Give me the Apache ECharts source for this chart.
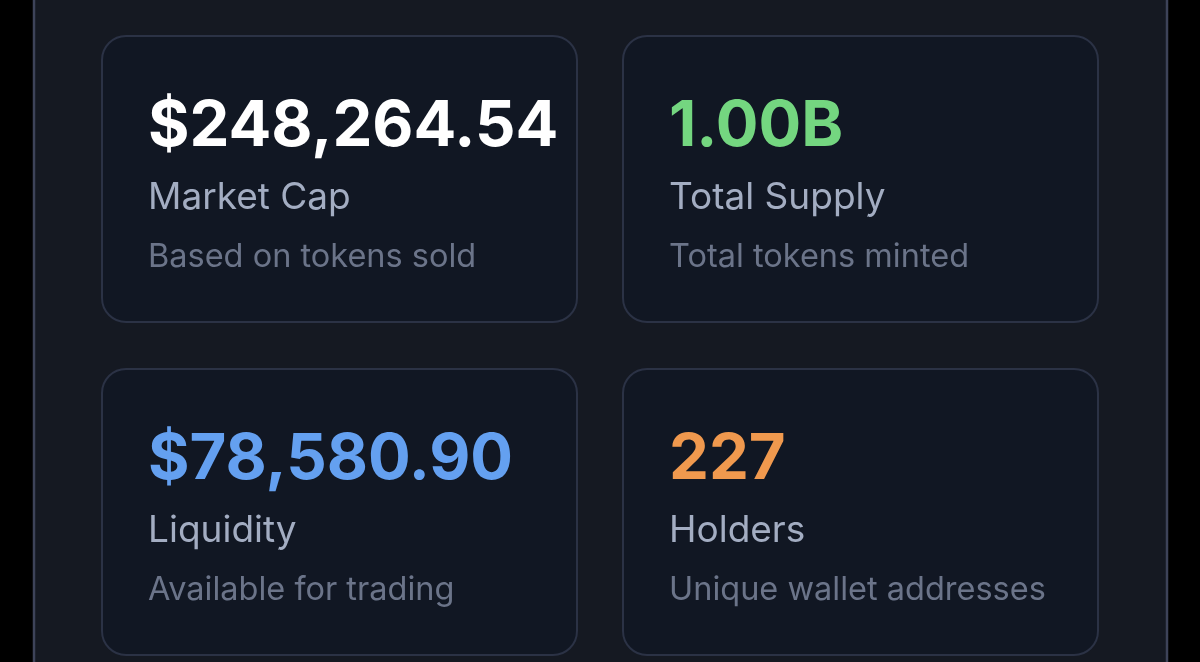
<!DOCTYPE html>
<html style="height:100%">
<head>
    <meta charset="utf-8">
    <title>Token stats</title>
    <script src="https://cdn.jsdelivr.net/npm/echarts@6/dist/echarts.min.js"></script>
</head>
<body style="height:100%;margin:0;background:#000">
    <div id="main" style="width:1200px;height:662px;"></div>
    <script type="text/javascript">
        var statValues = ['$248,264.54', '1.00B', '$78,580.90', '227'];
        var statLabels = ['Market Cap', 'Total Supply', 'Liquidity', 'Holders'];
        var statNotes = ['Based on tokens sold', 'Total tokens minted', 'Available for trading', 'Unique wallet addresses'];
        var statColors = ['#ffffff', '#74d680', '#64a0f0', '#f0994e'];

        var myChart = echarts.init(document.getElementById('main'));
        var font = 'Inter, "Noto Sans", sans-serif';

        // frame around the cards, runs off the top and bottom of the picture
        var elements = [{
            type: 'rect',
            shape: { x: 34, y: -20, width: 1133, height: 720 },
            style: { fill: '#151922', stroke: '#3d4359', lineWidth: 2.5 }
        }];

        statValues.forEach(function (value, i) {
            var left = i % 2 === 0 ? 102 : 623;
            var top = i < 2 ? 36 : 369;
            elements.push({
                type: 'rect',
                shape: { x: left, y: top, width: 475, height: 286, r: 24 },
                style: { fill: '#111723', stroke: '#2b3245', lineWidth: 2 }
            }, {
                type: 'text',
                x: left + 46,
                y: top + 91,
                style: { text: value, fill: statColors[i], font: '700 63.4px ' + font, textVerticalAlign: 'middle' }
            }, {
                type: 'text',
                x: left + 46,
                y: top + 162,
                style: { text: statLabels[i], fill: '#a3adc2', font: '400 37px ' + font, textVerticalAlign: 'middle' }
            }, {
                type: 'text',
                x: left + 46,
                y: top + 221,
                style: { text: statNotes[i], fill: '#6b7489', font: '400 32.5px ' + font, textVerticalAlign: 'middle' }
            });
        });

        myChart.setOption({
            backgroundColor: '#000',
            animation: false,
            graphic: { elements: elements }
        });
    </script>
</body>
</html>
